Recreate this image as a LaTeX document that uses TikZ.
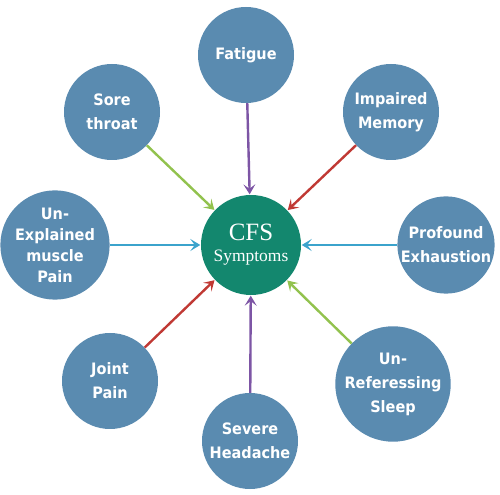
\documentclass[tikz,border=0pt]{standalone}
\usepackage{fontspec}
\setmainfont{Liberation Serif}
\newfontfamily\lbl{DejaVu Sans}[FakeStretch=0.92]
\usetikzlibrary{arrows.meta}
\definecolor{circblue}{RGB}{90,139,176}
\definecolor{hubgreen}{RGB}{19,135,110}
\definecolor{feedpurple}{RGB}{125,85,165}
\definecolor{feedred}{RGB}{192,57,52}
\definecolor{feedblue}{RGB}{59,163,204}
\definecolor{feedgreen}{RGB}{146,194,78}
\tikzset{
  symptom/.style={circle, fill=circblue, text=white, minimum size=96bp, inner sep=0pt, align=center,
    font=\lbl\bfseries\fontsize{15.8}{24}\selectfont},
  hub/.style={circle, fill=hubgreen, text=white, minimum size=100bp, inner sep=0pt, align=center,
    font=\fontsize{17.5}{21}\selectfont},
  feed/.style={line width=2.4bp, -{Stealth[length=10bp,width=12bp,inset=4.5bp]}, shorten >=0.5bp}
}
\newcommand{\arrowin}[2]{\draw[feed, #1] (#2) -- (cfs);}
\begin{document}
\begin{tikzpicture}[x=1bp,y=1bp]
    \useasboundingbox (0,0) rectangle (500,495);
    % centre
    \node[hub] (cfs) at (251,250) {{\fontsize{25}{21}\selectfont CFS}\\Symptoms};
    % symptoms, clockwise from the top
    \node[symptom] (fatigue) at (246,440) {Fatigue};
    \node[symptom] (memory) at (391,383) {Impaired\\Memory};
    \node[symptom] (exhaust) at (446,250) {Profound\\Exhaustion};
    \node[symptom] (sleep) at (393,111) {Un-\\Referessing\\Sleep};
    \node[symptom] (headache) at (250,54) {Severe\\Headache};
    \node[symptom] (joint) at (110,114) {Joint\\Pain};
    \node[symptom, font=\lbl\bfseries\fontsize{15.8}{21}\selectfont] (muscle) at (55,250) {Un-\\Explained\\muscle\\Pain};
    \node[symptom] (sore) at (112,383) {Sore\\throat};
    % arrows
    \arrowin{feedpurple}{fatigue}
    \arrowin{feedred}{memory}
    \arrowin{feedblue}{exhaust}
    \arrowin{feedgreen}{sleep}
    \arrowin{feedpurple}{headache}
    \arrowin{feedred}{joint}
    \arrowin{feedblue}{muscle}
    \arrowin{feedgreen}{sore}
\end{tikzpicture}
\end{document}
